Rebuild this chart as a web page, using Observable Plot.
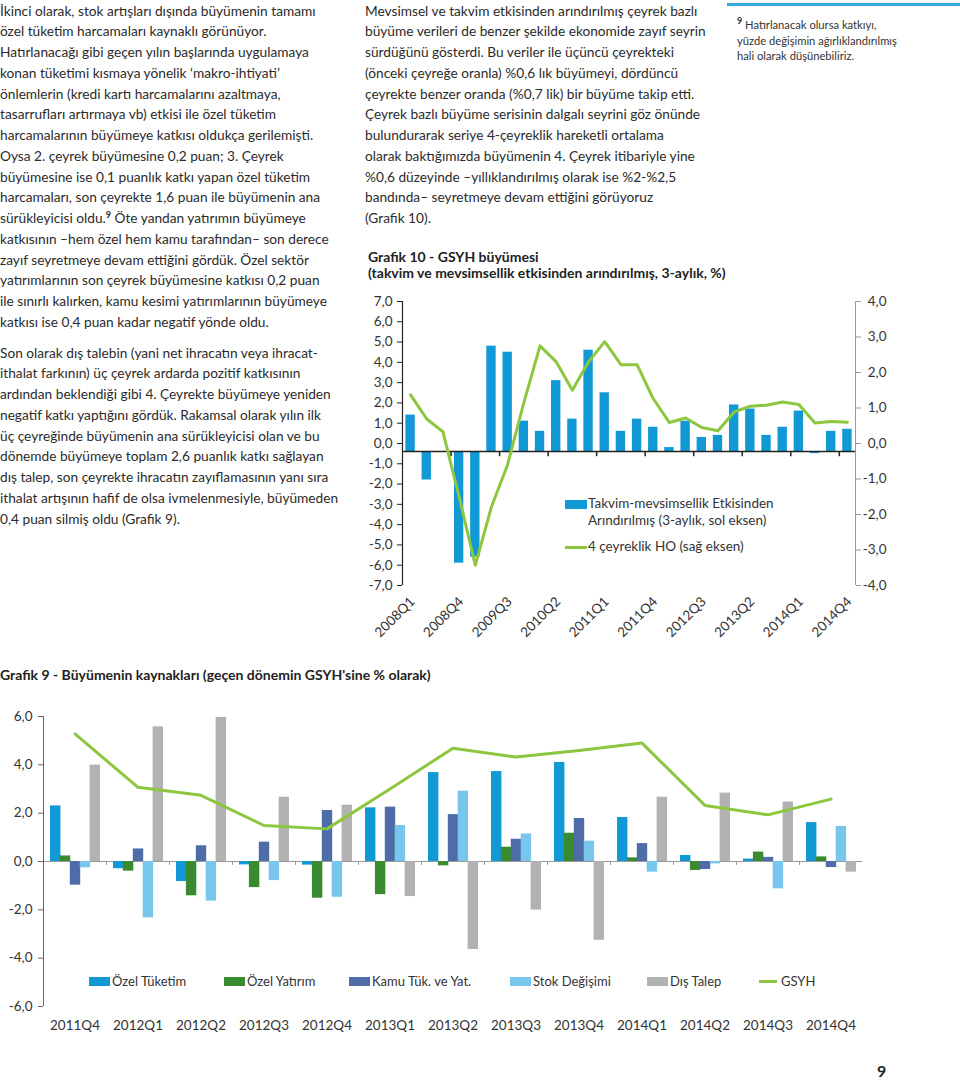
<!DOCTYPE html>
<html><head><meta charset="utf-8">
<script src="https://cdn.jsdelivr.net/npm/d3@7"></script>
<script src="https://cdn.jsdelivr.net/npm/@observablehq/plot@0.6"></script>
<style>
body{margin:0;background:#fff;}
#page{position:relative;width:960px;height:1080px;overflow:hidden;font-family:Lato,"Open Sans",sans-serif;color:#2b2b2b;}
.col{position:absolute;font-size:13.7px;line-height:20.75px;}
.col div{white-space:nowrap;height:20.75px;}
.sup{font-size:9px;font-weight:bold;position:relative;top:-5px;line-height:0;}
.note{position:absolute;left:737px;top:17px;font-size:11.2px;line-height:15.5px;color:#333;}
.note div{white-space:nowrap;height:15.5px;}
.title{position:absolute;font-weight:bold;font-size:14px;line-height:16px;color:#222;white-space:nowrap;}
.chart{position:absolute;}
.leg{position:absolute;font-size:13.5px;color:#333;white-space:nowrap;line-height:17px;}
.sw{position:absolute;}
</style></head><body><div id="page"></div>
<script>
// ---------- text content ----------
const leftPara1 = [
 "İkinci olarak, stok artışları dışında büyümenin tamamı",
 "özel tüketim harcamaları kaynaklı görünüyor.",
 "Hatırlanacağı gibi geçen yılın başlarında uygulamaya",
 "konan tüketimi kısmaya yönelik ‘makro-ihtiyati’",
 "önlemlerin (kredi kartı harcamalarını azaltmaya,",
 "tasarrufları artırmaya vb) etkisi ile özel tüketim",
 "harcamalarının büyümeye katkısı oldukça gerilemişti.",
 "Oysa 2. çeyrek büyümesine 0,2 puan; 3. Çeyrek",
 "büyümesine ise 0,1 puanlık katkı yapan özel tüketim",
 "harcamaları, son çeyrekte 1,6 puan ile büyümenin ana",
 "sürükleyicisi oldu.⁹ Öte yandan yatırımın büyümeye",
 "katkısının –hem özel hem kamu tarafından– son derece",
 "zayıf seyretmeye devam ettiğini gördük. Özel sektör",
 "yatırımlarının son çeyrek büyümesine katkısı 0,2 puan",
 "ile sınırlı kalırken, kamu kesimi yatırımlarının büyümeye",
 "katkısı ise 0,4 puan kadar negatif yönde oldu."
];
const leftPara2 = [
 "Son olarak dış talebin (yani net ihracatın veya ihracat-",
 "ithalat farkının) üç çeyrek ardarda pozitif katkısının",
 "ardından beklendiği gibi 4. Çeyrekte büyümeye yeniden",
 "negatif katkı yaptığını gördük. Rakamsal olarak yılın ilk",
 "üç çeyreğinde büyümenin ana sürükleyicisi olan ve bu",
 "dönemde büyümeye toplam 2,6 puanlık katkı sağlayan",
 "dış talep, son çeyrekte ihracatın zayıflamasının yanı sıra",
 "ithalat artışının hafif de olsa ivmelenmesiyle, büyümeden",
 "0,4 puan silmiş oldu (Grafik 9)."
];
const midPara = [
 "Mevsimsel ve takvim etkisinden arındırılmış çeyrek bazlı",
 "büyüme verileri de benzer şekilde ekonomide zayıf seyrin",
 "sürdüğünü gösterdi. Bu veriler ile üçüncü çeyrekteki",
 "(önceki çeyreğe oranla) %0,6 lık büyümeyi, dördüncü",
 "çeyrekte benzer oranda (%0,7 lik) bir büyüme takip etti.",
 "Çeyrek bazlı büyüme serisinin dalgalı seyrini göz önünde",
 "bulundurarak seriye 4-çeyreklik hareketli ortalama",
 "olarak baktığımızda büyümenin 4. Çeyrek itibariyle yine",
 "%0,6 düzeyinde –yıllıklandırılmış olarak ise %2-%2,5",
 "bandında– seyretmeye devam ettiğini görüyoruz",
 "(Grafik 10)."
];
const footnote = [
 "⁹ Hatırlanacak olursa katkıyı,",
 "yüzde değişimin ağırlıklandırılmış",
 "hali olarak düşünebiliriz."
];
const g10Title = ["Grafik 10 - GSYH büyümesi", "(takvim ve mevsimsellik etkisinden arındırılmış, 3-aylık, %)"];
const g10Legend = ["Takvim-mevsimsellik Etkisinden", "Arındırılmış (3-aylık, sol eksen)", "4 çeyreklik HO (sağ eksen)"];
const g9Title = "Grafik 9 - Büyümenin kaynakları (geçen dönemin GSYH'sine % olarak)";
const pageNumber = "9";

// ---------- Grafik 10 data ----------
const g10Quarters = ["2008Q1","2008Q2","2008Q3","2008Q4","2009Q1","2009Q2","2009Q3","2009Q4",
 "2010Q1","2010Q2","2010Q3","2010Q4","2011Q1","2011Q2","2011Q3","2011Q4",
 "2012Q1","2012Q2","2012Q3","2012Q4","2013Q1","2013Q2","2013Q3","2013Q4",
 "2014Q1","2014Q2","2014Q3","2014Q4"];
const g10Growth = [1.4,-1.8,-0.4,-5.9,-5.6,4.8,4.5,1.1,0.6,3.1,1.2,4.6,2.5,0.6,1.2,0.8,
 -0.2,1.1,0.3,0.4,1.9,1.7,0.4,0.8,1.6,-0.5,0.6,0.7];
const g10MA = [1.37,0.69,0.33,-1.5,-3.43,-1.78,-0.59,1.15,2.75,2.3,1.5,2.3,2.87,2.22,2.22,1.26,
 0.59,0.72,0.45,0.36,0.89,1.05,1.08,1.17,1.1,0.58,0.62,0.6];
const g10LeftTicks = [-7,-6,-5,-4,-3,-2,-1,0,1,2,3,4,5,6,7];
const g10RightTicks = [-4,-3,-2,-1,0,1,2,3,4];
const g10AxisCross = -0.4;   // value where the category axis crosses the left axis

// ---------- Grafik 9 data ----------
const g9Quarters = ["2011Q4","2012Q1","2012Q2","2012Q3","2012Q4","2013Q1","2013Q2","2013Q3","2013Q4","2014Q1","2014Q2","2014Q3","2014Q4"];
const g9OzelTuketim = [2.3,-0.3,-0.83,-0.14,-0.15,2.22,3.68,3.72,4.1,1.82,0.25,0.1,1.61];
const g9OzelYatirim = [0.23,-0.4,-1.42,-1.08,-1.52,-1.37,-0.18,0.59,1.17,0.15,-0.37,0.39,0.19];
const g9Kamu        = [-0.98,0.52,0.65,0.8,2.11,2.25,1.94,0.92,1.78,0.74,-0.33,0.17,-0.25];
const g9Stok        = [-0.26,-2.33,-1.64,-0.79,-1.48,1.49,2.91,1.14,0.84,-0.44,-0.1,-1.13,1.45];
const g9DisTalep    = [3.99,5.57,5.96,2.66,2.33,-1.45,-3.64,-2.01,-3.26,2.66,2.83,2.46,-0.44];
const g9GSYH        = [5.28,3.07,2.74,1.49,1.35,3.0,4.69,4.32,4.59,4.9,2.32,1.93,2.58];
const g9Ticks = [-6,-4,-2,0,2,4,6];
const g9SeriesNames = ["Özel Tüketim","Özel Yatırım","Kamu Tük. ve Yat.","Stok Değişimi","Dış Talep","GSYH"];

// ---------- colours ----------
const cBlue = "#1199d6", cDkGreen = "#3a8a30", cSlate = "#4d6ca8", cLtBlue = "#79c6ec", cGray = "#b2b2b2", cLime = "#8dc63f";

const page = document.getElementById("page");
function addCol(lines, left, top, cls) {
  const d = document.createElement("div");
  d.className = cls || "col";
  d.style.left = left + "px"; d.style.top = top + "px";
  lines.forEach(t => {
    const l = document.createElement("div");
    l.innerHTML = t.replace("⁹", '<span class="sup">9</span>');
    d.appendChild(l);
  });
  page.appendChild(d);
  return d;
}
addCol(leftPara1, 0, 0.6);
addCol(leftPara2, 0, 342.6);
addCol(midPara, 365, 0.6);
// footnote rule + text
const rule = document.createElement("div");
Object.assign(rule.style, {position:"absolute", left:"727px", top:"3px", width:"233px", height:"3px", background:"#36a9e1"});
page.appendChild(rule);
addCol(footnote, 737, 17, "note");

function addText(text, left, top, cls, extra) {
  const d = document.createElement("div");
  d.className = cls; d.textContent = text;
  d.style.left = left + "px"; d.style.top = top + "px";
  if (extra) Object.assign(d.style, extra);
  page.appendChild(d);
}
addText(g10Title[0], 368, 249, "title");
addText(g10Title[1], 368, 265, "title");
addText(g9Title, 0, 667, "title");
addText(pageNumber, 877, 1063, "title", {fontSize:"16px"});

const fmt = d => (Math.abs(d) < 1e-9 ? 0 : d).toFixed(1).replace(".", ",");
const font = "Lato, 'Open Sans', sans-serif";

// ---------- Grafik 10 ----------
const g10 = g10Quarters.map((q, i) => ({q, i, v: g10Growth[i], ho: g10MA[i]}));
const rk = 7 / 4; // right axis (±4) onto left axis (±7)
const plot10 = Plot.plot({
  width: 540, height: 350,
  marginLeft: 42, marginRight: 45, marginTop: 11, marginBottom: 55,
  x: {domain: [0, g10.length], axis: null},
  y: {domain: [-7, 7], axis: null},
  style: {fontFamily: font, fontSize: "13.5px", color: "#333", background: "transparent", overflow: "visible"},
  marks: [
    Plot.rectY(g10, {x1: "i", x2: d => d.i + 1, y1: g10AxisCross, y2: "v", fill: cBlue, insetLeft: 3.4, insetRight: 3.4}),
    Plot.ruleY([g10AxisCross], {stroke: "#222", strokeWidth: 1.5}),
    Plot.ruleX(g10.filter(d => d.i % 3 === 0 && d.i > 0), {x: "i", y1: g10AxisCross, y2: g10AxisCross - 0.25, stroke: "#222", strokeWidth: 1.5}),
    Plot.line(g10, {x: d => d.i + 0.5, y: d => d.ho * rk, stroke: cLime, strokeWidth: 3}),
    Plot.ruleX([0], {y1: -7, y2: 7, stroke: "#222", strokeWidth: 1.2}),
    Plot.axisY({anchor: "left", label: null, ticks: g10LeftTicks, tickFormat: fmt, tickSize: 5, tickPadding: 5, stroke: "#222"}),
    Plot.ruleX([g10.length], {y1: -7, y2: 7, stroke: "#999"}),
    Plot.axisY({anchor: "right", label: null, ticks: g10RightTicks.map(d => d * rk), tickFormat: () => "", tickSize: 5, stroke: "#999"}),
    Plot.text(g10RightTicks, {x: g10.length, y: d => d * rk, text: d => fmt(d), textAnchor: "end", dx: 31}),
    Plot.text(g10.filter(d => d.i % 3 === 0), {x: d => d.i + 0.5, y: -7, text: "q", rotate: -45, textAnchor: "end", dy: 14, dx: 2, fontSize: 13.5})
  ]
});
const w10 = document.createElement("div");
w10.className = "chart"; w10.style.left = "360px"; w10.style.top = "290px";
w10.appendChild(plot10); page.appendChild(w10);

// legend of Grafik 10
const sw1 = document.createElement("div"); sw1.className = "sw";
Object.assign(sw1.style, {left:"565px", top:"500px", width:"22px", height:"9px", background:cBlue});
page.appendChild(sw1);
addText(g10Legend[0], 588, 495, "leg");
addText(g10Legend[1], 588, 512, "leg");
const sw2 = document.createElement("div"); sw2.className = "sw";
Object.assign(sw2.style, {left:"565px", top:"546px", width:"22px", height:"3px", background:cLime});
page.appendChild(sw2);
addText(g10Legend[2], 588, 538, "leg");

// ---------- Grafik 9 ----------
const g9 = g9Quarters.map((q, i) => ({q, i, ot: g9OzelTuketim[i], oy: g9OzelYatirim[i], ka: g9Kamu[i], st: g9Stok[i], dt: g9DisTalep[i], gs: g9GSYH[i]}));
const g9Series = [["ot", cBlue], ["oy", cDkGreen], ["ka", cSlate], ["st", cLtBlue], ["dt", cGray]];
const barW = 10.4, step = 9.9;
const plot9 = Plot.plot({
  width: 870, height: 350,
  marginLeft: 43, marginRight: 8, marginTop: 26, marginBottom: 34,
  x: {domain: [0, g9.length], axis: null},
  y: {domain: [-6, 6], axis: null},
  style: {fontFamily: font, fontSize: "13.5px", color: "#333", background: "transparent", overflow: "visible"},
  marks: [
    Plot.ruleY([0], {stroke: "#999"}),
    Plot.ruleX(g9.filter(d => d.i > 0), {x: "i", y1: 0, y2: -0.16, stroke: "#999"}),
    ...g9Series.map(([key, color], k) => {
      const off = (k - 2) * step + 0.5;
      const side = (63 - barW) / 2;
      return Plot.rectY(g9, {x1: "i", x2: d => d.i + 1, y1: 0, y2: key, fill: color, insetLeft: side + off, insetRight: side - off});
    }),
    Plot.line(g9, {x: d => d.i + 0.5, y: "gs", stroke: cLime, strokeWidth: 3}),
    Plot.ruleX([0], {y1: -6, y2: 6, stroke: "#666"}),
    Plot.axisY({anchor: "left", label: null, ticks: g9Ticks, tickFormat: fmt, tickSize: 5, tickPadding: 6, stroke: "#666"}),
    Plot.text(g9, {x: d => d.i + 0.5, y: -6, text: "q", dy: 19, fontSize: 13.5})
  ]
});
const w9 = document.createElement("div");
w9.className = "chart"; w9.style.left = "0px"; w9.style.top = "690px";
w9.appendChild(plot9); page.appendChild(w9);

// legend of Grafik 9
const g9LegendX = [89, 224, 349, 510, 647, 759];
const g9LegendColors = [cBlue, cDkGreen, cSlate, cLtBlue, cGray, cLime];
g9SeriesNames.forEach((name, k) => {
  const s = document.createElement("div"); s.className = "sw";
  const isLine = k === 5;
  Object.assign(s.style, {left: g9LegendX[k] + "px", top: (isLine ? 980 : 977) + "px", width: (isLine ? 18 : 21) + "px", height: (isLine ? 3 : 9) + "px", background: g9LegendColors[k]});
  page.appendChild(s);
  addText(name, g9LegendX[k] + (isLine ? 22 : 23), 973, "leg", {fontSize: "13px"});
});
</script>
</body></html>
